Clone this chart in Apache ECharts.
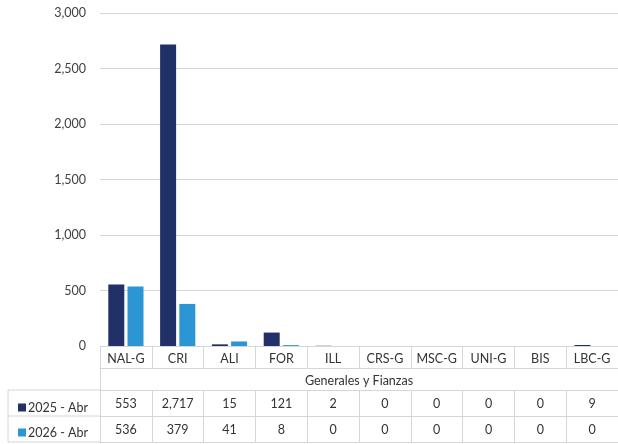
<!DOCTYPE html>
<html><head><meta charset="utf-8">
<script src="https://cdn.jsdelivr.net/npm/echarts@6/dist/echarts.min.js"></script>
<style>html,body{margin:0;padding:0;background:#fff}#c{width:618px;height:444px}</style>
</head><body><div id="c"></div>
<script>
const categories = ['NAL-G','CRI','ALI','FOR','ILL','CRS-G','MSC-G','UNI-G','BIS','LBC-G'];
const groupLabel = 'Generales y Fianzas';
const seriesNames = ['2025 - Abr','2026 - Abr'];
const values2025 = [553, 2717, 15, 121, 2, 0, 0, 0, 0, 9];
const values2026 = [536, 379, 41, 8, 0, 0, 0, 0, 0, 0];
const yTicks = { min: 0, max: 3000, interval: 500 };

const colors = ['#22306a', '#2c96d4'];
const lineColor = '#d6d6d6';
const textColor = '#333';
const font = 'Lato, "Noto Sans", sans-serif';
const fmt = v => v.toLocaleString('en-US');

const G = { left: 100, right: 0, top: 13, bottom: 98 };
const rowH = [22, 22, 26, 26];
const tableLeft = 8;
const chartH = 444;
const axisY = chartH - G.bottom;

function rowAxis(data, offset, h, showTicks, extra) {
  return Object.assign({
    type: 'category', data: data, position: 'bottom', offset: offset, gridIndex: 0,
    axisLine: { show: true, lineStyle: { color: lineColor, width: 1 } },
    axisTick: { show: showTicks, length: h, interval: 0, alignWithLabel: false, lineStyle: { color: lineColor, width: 1 } },
    axisLabel: { show: true, interval: 0, color: textColor, fontSize: 12.5, fontFamily: font, margin: 6 },
    splitLine: { show: false }
  }, extra || {});
}

let off = 0;
const xAxes = [];
xAxes.push(rowAxis(categories, off, rowH[0], true)); off += rowH[0];
xAxes.push(rowAxis([groupLabel], off, rowH[1], true)); off += rowH[1];
xAxes.push(rowAxis(values2025.map(fmt), off, rowH[2], true, {axisLabel:{show:true,interval:0,color:textColor,fontSize:12.5,fontFamily:font,margin:7}})); off += rowH[2];
xAxes.push(rowAxis(values2026.map(fmt), off, rowH[3], true, {axisLabel:{show:true,interval:0,color:textColor,fontSize:12.5,fontFamily:font,margin:7}})); off += rowH[3];
xAxes.push(rowAxis([''], off, 0, false, {axisLabel:{show:false}}));

const yRow1 = axisY + rowH[0] + rowH[1];
const yRow2 = yRow1 + rowH[2];
const yRow3 = yRow2 + rowH[3];

const chart = echarts.init(document.getElementById('c'), null, { renderer: 'canvas' });
chart.setOption({
  animation: false,
  backgroundColor: '#fff',
  grid: { left: G.left, right: G.right, top: G.top, bottom: G.bottom, containLabel: false },
  legend: {
    orient: 'vertical', left: 13, top: yRow1 + 6, itemGap: 12,
    icon: 'rect', itemWidth: 8, itemHeight: 8, selectedMode: false,
    textStyle: { color: textColor, fontSize: 12.5, fontFamily: font, padding: [0,0,0,-3] },
    data: seriesNames
  },
  xAxis: xAxes,
  yAxis: {
    type: 'value', min: yTicks.min, max: yTicks.max, interval: yTicks.interval,
    axisLine: { show: false }, axisTick: { show: false },
    axisLabel: { color: '#404040', fontSize: 12.5, fontFamily: font, margin: 14, formatter: v => fmt(v) },
    splitLine: { lineStyle: { color: lineColor, width: 1 } }
  },
  series: [
    { name: seriesNames[0], type: 'bar', data: values2025, barWidth: 16, barGap: '20%', itemStyle: { color: colors[0] } },
    { name: seriesNames[1], type: 'bar', data: values2026, barWidth: 16, barGap: '20%', itemStyle: { color: colors[1] } }
  ],
  graphic: [
    { type: 'line', shape: { x1: tableLeft, y1: yRow1, x2: G.left, y2: yRow1 }, style: { stroke: lineColor, lineWidth: 1 } },
    { type: 'line', shape: { x1: tableLeft, y1: yRow2, x2: G.left, y2: yRow2 }, style: { stroke: lineColor, lineWidth: 1 } },
    { type: 'line', shape: { x1: tableLeft, y1: yRow3, x2: G.left, y2: yRow3 }, style: { stroke: lineColor, lineWidth: 1 } },
    { type: 'line', shape: { x1: tableLeft, y1: yRow1, x2: tableLeft, y2: yRow3 }, style: { stroke: lineColor, lineWidth: 1 } }
  ]
});
</script></body></html>
